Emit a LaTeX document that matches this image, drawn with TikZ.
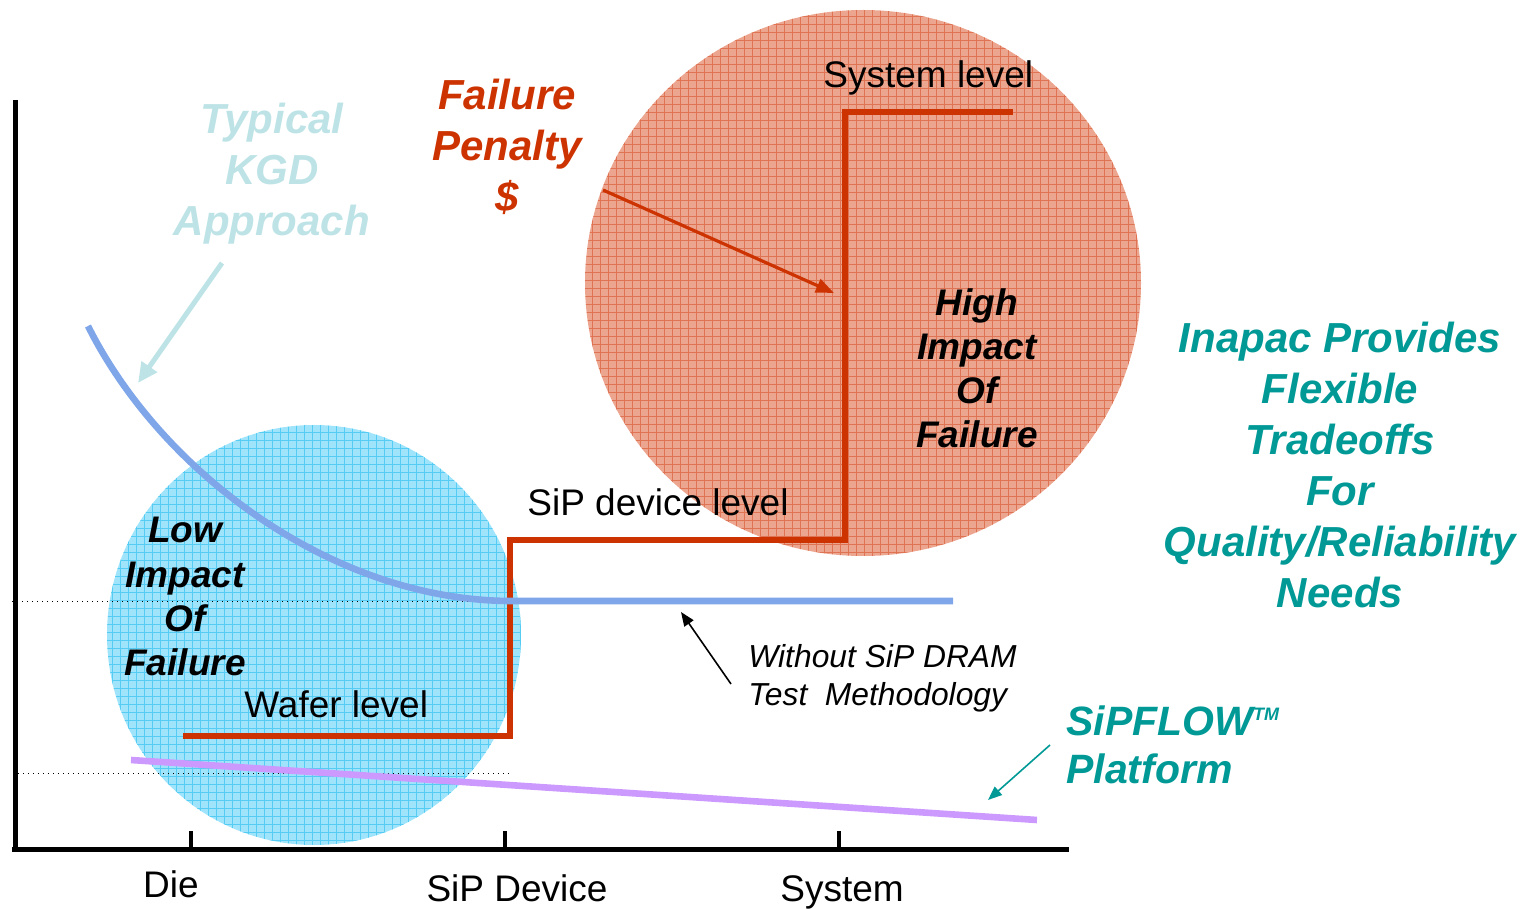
\documentclass[tikz,border=0pt]{standalone}
\usepackage{fontspec}
\setmainfont{Liberation Sans}
\usetikzlibrary{arrows.meta}
\definecolor{penred}{RGB}{204,51,0}
\definecolor{tealtxt}{RGB}{0,153,150}
\definecolor{kgdc}{RGB}{189,227,230}
\definecolor{curveblue}{RGB}{127,166,232}
\definecolor{lilac}{RGB}{204,153,255}
\definecolor{salmon}{RGB}{236,166,144}
\definecolor{salmongrid}{RGB}{214,84,44}
\definecolor{sky}{RGB}{160,228,252}
\definecolor{skygrid}{RGB}{60,196,240}
\begin{document}
\begin{tikzpicture}[x=0.5pt,y=-0.5pt,
  lbl/.style={font=\fontsize{18.5}{22}\selectfont, inner sep=0pt, anchor=base west},
  axlbl/.style={font=\fontsize{18.5}{22}\selectfont, inner sep=0pt, anchor=base},
  bigtxt/.style={font=\fontsize{21}{25.5}\selectfont\bfseries\itshape, inner sep=0pt, align=center, anchor=north},
  imptxt/.style={font=\fontsize{18.5}{22.1}\selectfont\bfseries\itshape, inner sep=0pt, align=center, anchor=north},
  wotxt/.style={font=\fontsize{15.9}{19}\selectfont\itshape, inner sep=0pt, align=left, anchor=north west},
  flowtxt/.style={font=\fontsize{20.5}{24}\selectfont\bfseries\itshape, inner sep=0pt, align=left, anchor=north west, text=tealtxt},
  stepline/.style={penred, line width=3.3pt},
  axisline/.style={black, line width=2.5pt},
  tickline/.style={black, line width=2pt},
  guide/.style={black, dotted, line width=0.5pt}
]
\useasboundingbox (0,0) rectangle (1539,909);

% blue circle with grid
\begin{scope}
  \clip (314,635) ellipse [x radius=103.5pt, y radius=105pt];
  \fill[sky] (100,850) rectangle (530,420);
  \draw[skygrid, line width=0.4pt, opacity=0.75, step=4pt] (100,850) grid (530,420);
\end{scope}
% red circle with grid
\begin{scope}
  \clip (863,283) ellipse [x radius=139pt, y radius=136.5pt];
  \fill[salmon] (580,570) rectangle (1150,0);
  \draw[salmongrid, line width=0.4pt, opacity=0.6, step=4pt] (580,570) grid (1150,0);
\end{scope}

% dotted guides
\draw[guide] (12,602) -- (510,602);
\draw[guide] (18,773) -- (512,773);

% step line
\coordinate (w0) at (183,736);
\coordinate (w1) at (510,736);
\coordinate (s0) at (510,540);
\coordinate (s1) at (845,540);
\coordinate (y0) at (845,112);
\coordinate (y1) at (1013,112);
\draw[stepline] (w0) -- (w1) -- (s0) -- (s1) -- (y0) -- (y1);

% blue curve
\coordinate (c0) at (88,326);
\coordinate (c1) at (510,601);
\coordinate (c2) at (953,601);
\draw[curveblue, line width=3.3pt] (c0) .. controls (160,470) and (330,600) .. (c1) -- (c2);

% lilac line
\coordinate (p0) at (131,760);
\coordinate (p1) at (1037,820);
\draw[lilac, line width=3.3pt] (p0) -- (p1);

% axes
\coordinate (ytop) at (15,100);
\coordinate (orig) at (15,849);
\coordinate (xend) at (1069,849);
\draw[axisline] (ytop) -- (15,851);
\draw[axisline] (12,849) -- (xend);
\coordinate (t1) at (191,849);
\coordinate (t2) at (505,849);
\coordinate (t3) at (839,849);
\draw[tickline] (t1) -- (191,831);
\draw[tickline] (t2) -- (505,831);
\draw[tickline] (t3) -- (839,831);

% axis labels
\node[axlbl] (die) at (171,897) {Die};
\node[axlbl] (sipd) at (517,901) {SiP Device};
\node[axlbl] (sysx) at (842,901) {System};

% level labels
\node[lbl] (syslvl) at (823,88) {System level};
\node[lbl] (siplvl) at (527,516) {SiP device level};
\node[lbl] (wafer) at (244,718) {Wafer level};

% big texts
\node[bigtxt, text=kgdc] (kgd) at (272,103) {Typical\\KGD\\Approach};
\node[bigtxt, text=penred] (pen) at (507,79) {Failure\\Penalty\\\$};
\node[bigtxt, text=tealtxt] (inapac) at (1340,322) {Inapac Provides\\Flexible\\Tradeoffs\\For\\Quality/Reliability\\Needs};
\node[imptxt] (high) at (977,288) {High\\Impact\\Of\\Failure};
\node[imptxt] (low) at (185,517) {Low\\Impact\\Of\\Failure};
\node[wotxt] (without) at (748,644) {Without SiP DRAM\\Test\ \ Methodology};
\node[flowtxt] (flow) at (1066,705) {SiPFLOW\raisebox{7.5pt}{\fontsize{9}{9}\selectfont TM}\\Platform};

% arrows
\coordinate (kgdA) at (222,263);
\coordinate (kgdB) at (138,383);
\draw[kgdc, line width=2.5pt, -{Triangle[length=10pt,width=9pt]}] (kgdA) -- (kgdB);
\coordinate (penA) at (603,190);
\coordinate (penB) at (834,293);
\draw[penred, line width=1.6pt, -{Triangle[length=9pt,width=7pt]}] (penA) -- (penB);
\coordinate (woA) at (731,684);
\coordinate (woB) at (681,612);
\draw[black, line width=0.8pt, -{Triangle[length=7pt,width=5.5pt]}] (woA) -- (woB);
\coordinate (flA) at (1050,745);
\coordinate (flB) at (988,800);
\draw[tealtxt, line width=0.8pt, -{Triangle[length=7pt,width=5.5pt]}] (flA) -- (flB);
\end{tikzpicture}
\end{document}
